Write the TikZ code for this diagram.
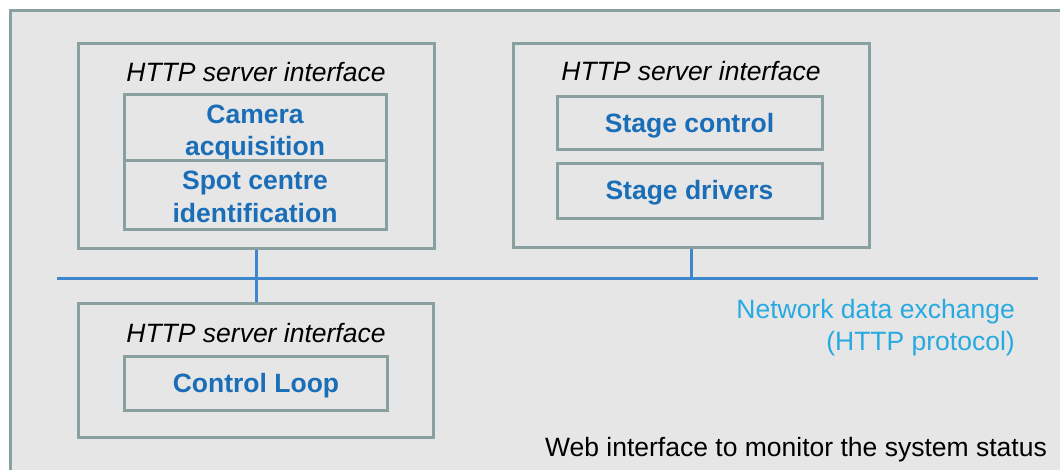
\documentclass[tikz,border=0pt]{standalone}
\usepackage{fontspec}
\setmainfont{Liberation Sans}
\definecolor{bordercol}{RGB}{136,160,160}
\definecolor{bgcol}{RGB}{230,230,230}
\definecolor{boxtext}{RGB}{26,110,184}
\definecolor{nettext}{RGB}{40,170,225}
\definecolor{netline}{RGB}{62,135,205}
\tikzset{
  frame/.style={draw=bordercol, line width=3pt, inner sep=0pt},
  modtext/.style={font=\fontsize{26.5}{32}\selectfont\bfseries, text=boxtext, inner sep=0pt, anchor=base, yshift=-2pt},
  title/.style={font=\fontsize{26.5}{32}\selectfont\itshape, inner sep=0pt, anchor=base, yshift=-2pt},
  plaintext/.style={font=\fontsize{26.5}{32}\selectfont, inner sep=0pt, anchor=base east, yshift=-2pt},
  netconn/.style={draw=netline, line width=3pt},
}
\begin{document}
\begin{tikzpicture}[x=1pt,y=-1pt]
\clip (0,0) rectangle (1060,469);
\fill[white] (0,0) rectangle (1060,469);
\draw[draw=bordercol, fill=bgcol, line width=3pt] (10,10) rectangle (1080,490);
% Box A
\node[frame, minimum width=356pt, minimum height=205pt] (A) at (256,145.5) {};
\node[title] (Atitle) at (256,79) {HTTP server interface};
\node[frame, minimum width=262pt, minimum height=66pt] (cam) at (255,127) {};
\node[modtext] (camT1) at (255,121) {Camera};
\node[modtext] (camT2) at (255,153) {acquisition};
\node[frame, minimum width=262pt, minimum height=69pt] (spot) at (255,194.5) {};
\node[modtext] (spotT1) at (255,187) {Spot centre};
\node[modtext] (spotT2) at (255,220) {identification};
% Box B
\node[frame, minimum width=356pt, minimum height=204pt] (B) at (691,145) {};
\node[title] (Btitle) at (691,78.5) {HTTP server interface};
\node[frame, minimum width=265pt, minimum height=53pt] (stc) at (689.5,122.5) {};
\node[modtext] (stcT) at (689.5,130.7) {Stage control};
\node[frame, minimum width=265pt, minimum height=55pt] (std) at (689.5,190.5) {};
\node[modtext] (stdT) at (689.5,197.3) {Stage drivers};
% Box C
\node[frame, minimum width=355pt, minimum height=134pt] (C) at (256,370) {};
\node[title] (Ctitle) at (256,340) {HTTP server interface};
\node[frame, minimum width=263pt, minimum height=54pt] (loop) at (256,383) {};
\node[modtext] (loopT) at (256,390) {Control Loop};
% network
\coordinate (netL) at (57,278);
\coordinate (netR) at (1038,278);
\draw[netconn] (netL) -- (netR);
\draw[netconn] (A.south) -- (C.north);
\draw[netconn] (B.south) -- (B.south |- netL);
\node[plaintext, text=nettext] (net1) at (1015,316.7) {Network data exchange};
\node[plaintext, text=nettext] (net2) at (1015,348.5) {(HTTP protocol)};
\node[plaintext] (web) at (1047,454) {Web interface to monitor the system status};
\end{tikzpicture}
\end{document}
